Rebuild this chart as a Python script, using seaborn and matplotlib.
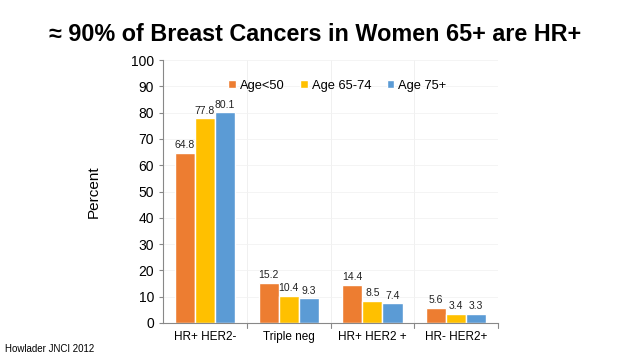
import pandas as pd
import matplotlib.pyplot as plt
import seaborn as sns

categories = ["HR+ HER2-", "Triple neg", "HR+ HER2 +", "HR- HER2+"]
age_groups = ["Age<50", "Age 65-74", "Age 75+"]
under_50 = [64.8, 15.2, 14.4, 5.6]
age_65_74 = [77.8, 10.4, 8.5, 3.4]
age_75_plus = [80.1, 9.3, 7.4, 3.3]
colors = ["#ED7D31", "#FFC000", "#5B9BD5"]

df = pd.DataFrame({
    "subtype": categories * 3,
    "age": [a for a in age_groups for _ in categories],
    "pct": under_50 + age_65_74 + age_75_plus,
})

sns.set_style("white")
plt.rcParams["font.family"] = ["Liberation Sans", "DejaVu Sans"]
plt.rcParams["text.color"] = "black"
plt.rcParams["axes.labelcolor"] = "black"
plt.rcParams["xtick.color"] = "black"
plt.rcParams["ytick.color"] = "black"

fig = plt.figure(figsize=(6.4, 3.6), dpi=100)
ax = fig.add_axes([0.255, 0.103, 0.523, 0.730])

sns.barplot(data=df, x="subtype", y="pct", hue="age", palette=colors,
            width=0.72, gap=0, ax=ax, saturation=1, legend=True)

for cont in ax.containers:
    ax.bar_label(cont, fmt="%.1f", padding=2, fontsize=7.5, color="#222222")

ax.set_ylim(0, 100)
ax.set_yticks(range(0, 101, 10))
ax.set_xlim(-0.5, 3.5)
ax.set_xlabel("")
ax.set_ylabel("Percent", fontsize=11, labelpad=22)
ax.tick_params(axis="y", labelsize=10, length=3, direction="out", left=True,
               color="#888888", labelcolor="black")
ax.tick_params(axis="x", labelsize=8.5, length=0, pad=6, labelcolor="black")
for b in [0.5, 1.5, 2.5, 3.5]:
    ax.plot([b, b], [0, -2], color="#888888", lw=0.8, clip_on=False)
    ax.axvline(b, color="#eeeeee", lw=0.6, zorder=0)
for yv in range(10, 101, 10):
    ax.axhline(yv, color="#f2f2f2", lw=0.6, zorder=0)

for side in ["top", "right"]:
    ax.spines[side].set_visible(False)
ax.spines["left"].set_color("#888888")
ax.spines["bottom"].set_color("#888888")
ax.spines["left"].set_linewidth(0.8)
ax.spines["bottom"].set_linewidth(0.8)

ax.legend(loc="upper center", bbox_to_anchor=(0.52, 0.97), ncol=3, frameon=False,
          fontsize=9.3, handlelength=0.6, handleheight=0.6, handletextpad=0.3,
          columnspacing=1.2)

fig.text(0.492, 0.905, "\u2248 90% of Breast Cancers in Women 65+ are HR+",
         ha="center", va="center", fontsize=16.8, fontweight="bold")
fig.text(0.008, 0.03, "Howlader JNCI 2012", ha="left", va="center", fontsize=7)

fig.savefig("out.png", dpi=100)
